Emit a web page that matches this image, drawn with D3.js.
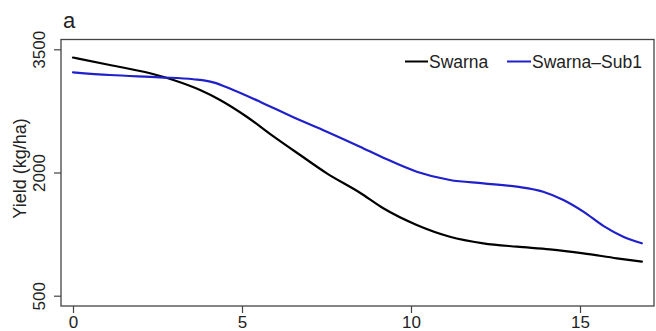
<!DOCTYPE html>
<html><head><meta charset="utf-8">
<script src="https://cdn.jsdelivr.net/npm/d3@7"></script>
<style>
html,body{margin:0;padding:0;background:#fff;}
svg{display:block;font-family:"Liberation Sans",Arial,Helvetica,sans-serif;}
</style></head>
<body><svg id="chart" width="656" height="331"></svg>
<script>
const xTicks = [0, 5, 10, 15];
const yTicks = [500, 2000, 3500];
const seriesNames = ["Swarna", "Swarna\u2013Sub1"];
const seriesColors = ["#000000", "#1f1fcc"];
const swarnaX = [0, 1.09, 2.28, 2.97, 3.76, 4.35, 5.14, 5.93, 6.72, 7.51, 8.49, 9.18, 10.17, 11.15, 12.14, 13.13, 14.11, 15.1, 16.09, 16.83];
const swarnaY = [3400, 3309, 3208, 3126, 3004, 2883, 2679, 2440, 2213, 1990, 1754, 1564, 1361, 1218, 1138, 1097, 1065, 1016, 955, 914];
const sub1X = [0, 1.09, 2.57, 3.56, 4.15, 4.74, 5.53, 6.52, 7.51, 8.49, 9.18, 10.17, 11.15, 12.14, 13.13, 13.91, 14.51, 15.1, 15.69, 16.28, 16.83];
const sub1Y = [3220, 3187, 3159, 3135, 3098, 3004, 2862, 2672, 2497, 2314, 2180, 2010, 1909, 1868, 1827, 1766, 1665, 1523, 1350, 1218, 1138];

const svg = d3.select("#chart");
const x = d3.scaleLinear().domain([0, 15]).range([73, 580]);
const y = d3.scaleLinear().domain([500, 3500]).range([295.7, 49.3]);
const frame = {left: 61, top: 39.5, right: 654, bottom: 306};
const axisColor = "#444";

// frame
svg.append("rect")
  .attr("x", frame.left).attr("y", frame.top)
  .attr("width", frame.right - frame.left).attr("height", frame.bottom - frame.top)
  .attr("fill", "none").attr("stroke", axisColor).attr("stroke-width", 1.3);

// x axis
const gx = svg.append("g").attr("transform", `translate(0,${frame.bottom})`)
  .call(d3.axisBottom(x).tickValues(xTicks).tickSize(7).tickPadding(3).tickFormat(d3.format("d")));
gx.select(".domain").remove();
gx.selectAll("line").attr("stroke", axisColor).attr("stroke-width", 1.2);
gx.selectAll("text").attr("font-size", 17).attr("fill", "#222").attr("font-family", "Liberation Sans, Arial, sans-serif");

// y axis
const gy = svg.append("g").attr("transform", `translate(${frame.left},0)`)
  .call(d3.axisLeft(y).tickValues(yTicks).tickSize(7).tickFormat(d3.format("d")));
gy.select(".domain").remove();
gy.selectAll("line").attr("stroke", axisColor).attr("stroke-width", 1.2);
gy.selectAll("text")
  .attr("font-size", 17).attr("fill", "#222").attr("font-family", "Liberation Sans, Arial, sans-serif")
  .attr("x", null).attr("dy", null)
  .attr("text-anchor", "middle")
  .attr("transform", "translate(-16,0) rotate(-90)");

// y title
svg.append("text")
  .attr("transform", "translate(26,168.5) rotate(-90)")
  .attr("text-anchor", "middle").attr("font-size", 18).attr("fill", "#222")
  .text("Yield (kg/ha)");

// panel label
svg.append("text").attr("x", 63).attr("y", 28).attr("font-size", 22).attr("fill", "#222").text("a");

// lines
const line = d3.line().x(d => x(d[0])).y(d => y(d[1])).curve(d3.curveMonotoneX);
const series = [d3.zip(swarnaX, swarnaY), d3.zip(sub1X, sub1Y)];
series.forEach((s, i) => {
  svg.append("path").datum(s).attr("d", line)
    .attr("fill", "none").attr("stroke", seriesColors[i]).attr("stroke-width", 2.2)
    .attr("stroke-linejoin", "round").attr("stroke-linecap", "round");
});

// legend
const legendPos = [{lx: 405, tx: 429}, {lx: 507, tx: 532}];
seriesNames.forEach((n, i) => {
  svg.append("line").attr("x1", legendPos[i].lx).attr("x2", legendPos[i].tx - 1)
    .attr("y1", 61.5).attr("y2", 61.5).attr("stroke", seriesColors[i]).attr("stroke-width", 2);
  svg.append("text").attr("x", legendPos[i].tx).attr("y", 67.5)
    .attr("font-size", 17.5).attr("fill", "#222").text(n);
});
</script></body></html>
